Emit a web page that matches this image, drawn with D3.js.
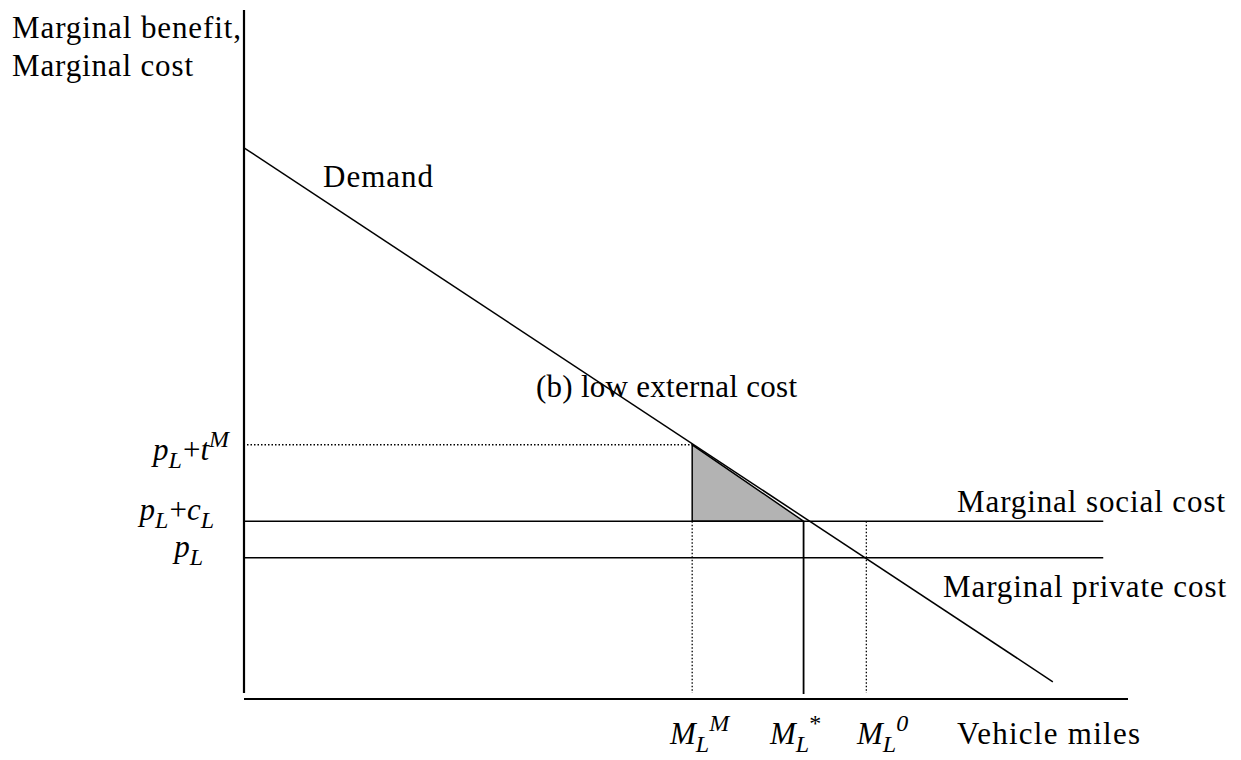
<!DOCTYPE html>
<html>
<head>
<meta charset="utf-8">
<script src="https://cdn.jsdelivr.net/npm/d3@7"></script>
<style>
  body { margin: 0; background: #fff; }
  text { font-family: "Liberation Serif", "Times New Roman", serif; fill: #000; }
</style>
</head>
<body>
<div id="chart"></div>
<script>
// values (arbitrary units, axes start at 0)
const demandPoints = [[0, 80.0], [91.5, 2.5]];
const priceLevels = [
  { name: "mpc", p: 20.5 },   // p_L
  { name: "msc", p: 25.8 },   // p_L + c_L
  { name: "tax", p: 36.9 }    // p_L + t^M
];
const quantities = [
  { name: "MM", q: 50.7 },
  { name: "Mstar", q: 63.3 },
  { name: "M0", q: 70.4 }
];
const costLineEnd = 97.2;
const xAxisEnd = 100;
const yAxisTop = 100;

const width = 1241, height = 760;

const svg = d3.select("#chart").append("svg")
    .attr("width", width)
    .attr("height", height);

const x = d3.scaleLinear().domain([0, 100]).range([244, 1128]);
const y = d3.scaleLinear().domain([0, 100]).range([699, 10]);

const P = name => priceLevels.find(d => d.name === name).p;
const Q = name => quantities.find(d => d.name === name).q;

const line = d3.line().x(d => x(d[0])).y(d => y(d[1]));

// shaded deadweight triangle
svg.append("path")
    .attr("d", line([[Q("MM"), P("tax")], [Q("MM"), P("msc")], [Q("Mstar"), P("msc")]]) + "Z")
    .attr("fill", "#b3b3b3")
    .attr("stroke", "#000")
    .attr("stroke-width", 1.5);

// axes
svg.append("line")
    .attr("x1", x(0)).attr("x2", x(0))
    .attr("y1", y(yAxisTop)).attr("y2", y(0) - 6)
    .attr("stroke", "#000").attr("stroke-width", 2.2);
svg.append("line")
    .attr("x1", x(0)).attr("x2", x(xAxisEnd))
    .attr("y1", y(0)).attr("y2", y(0))
    .attr("stroke", "#000").attr("stroke-width", 2.2);

// cost lines
["msc", "mpc"].forEach(n => {
  svg.append("line")
      .attr("x1", x(0)).attr("x2", x(costLineEnd))
      .attr("y1", y(P(n))).attr("y2", y(P(n)))
      .attr("stroke", "#000").attr("stroke-width", 1.6);
});

// demand
svg.append("path")
    .attr("d", line(demandPoints))
    .attr("fill", "none")
    .attr("stroke", "#000")
    .attr("stroke-width", 1.5);

// dotted guides
svg.append("line")
    .attr("x1", x(0) + 3).attr("x2", x(Q("MM")))
    .attr("y1", y(P("tax"))).attr("y2", y(P("tax")))
    .attr("stroke", "#000").attr("stroke-width", 1.3)
    .attr("stroke-dasharray", "1.5,2");
svg.append("line")
    .attr("x1", x(Q("MM"))).attr("x2", x(Q("MM")))
    .attr("y1", y(P("msc"))).attr("y2", y(0) - 6)
    .attr("stroke", "#000").attr("stroke-width", 1.3)
    .attr("stroke-dasharray", "1.5,2");
svg.append("line")
    .attr("x1", x(Q("M0"))).attr("x2", x(Q("M0")))
    .attr("y1", y(P("msc"))).attr("y2", y(0) - 6)
    .attr("stroke", "#000").attr("stroke-width", 1.3)
    .attr("stroke-dasharray", "1.5,2");
// solid optimum
svg.append("line")
    .attr("x1", x(Q("Mstar"))).attr("x2", x(Q("Mstar")))
    .attr("y1", y(P("msc"))).attr("y2", y(0) - 5)
    .attr("stroke", "#000").attr("stroke-width", 1.8);

// plain labels (stretched to the widths seen in the picture)
const fs = 31;
function label(tx, ty, str, len, anchor) {
  svg.append("text")
      .attr("x", tx).attr("y", ty)
      .attr("text-anchor", anchor || "start")
      .attr("textLength", len)
      .attr("lengthAdjust", "spacing")
      .style("font-size", fs + "px")
      .text(str);
}
label(12, 38, "Marginal benefit,", 229);
label(12, 76, "Marginal cost", 181);
label(323, 187, "Demand", 110);
label(536, 397, "(b) low external cost", 261);
label(1225, 512, "Marginal social cost", 268, "end");
label(1226, 597, "Marginal private cost", 283, "end");
label(957, 744, "Vehicle miles", 183);

// math labels: parts = [text, kind, upright] kind: n normal, b sub, p sup
function mathLabel(tx, ty, parts, anchor) {
  const t = svg.append("text")
      .attr("x", tx).attr("y", ty)
      .attr("text-anchor", anchor || "start")
      .style("font-size", fs + "px");
  let level = 0;
  parts.forEach(([s, kind, upright]) => {
    const target = kind === "b" ? 8 : kind === "p" ? -13 : 0;
    t.append("tspan")
        .attr("dy", target - level)
        .attr("dx", kind === "n" && s === "+" ? 1 : 0)
        .style("font-size", (kind === "n" ? fs : 24) + "px")
        .style("font-style", upright ? "normal" : "italic")
        .text(s);
    level = target;
  });
}
mathLabel(229, 460, [["p", "n"], ["L", "b"], ["+", "n", true], ["t", "n"], ["M", "p"]], "end");
mathLabel(214, 520, [["p", "n"], ["L", "b"], ["+", "n", true], ["c", "n"], ["L", "b"]], "end");
mathLabel(203, 557, [["p", "n"], ["L", "b"]], "end");

mathLabel(670, 744, [["M", "n"], ["L", "b"], ["M", "p"]]);
mathLabel(770, 744, [["M", "n"], ["L", "b"], ["*", "p", true]]);
mathLabel(857, 744, [["M", "n"], ["L", "b"], ["0", "p"]]);
</script>
</body>
</html>
